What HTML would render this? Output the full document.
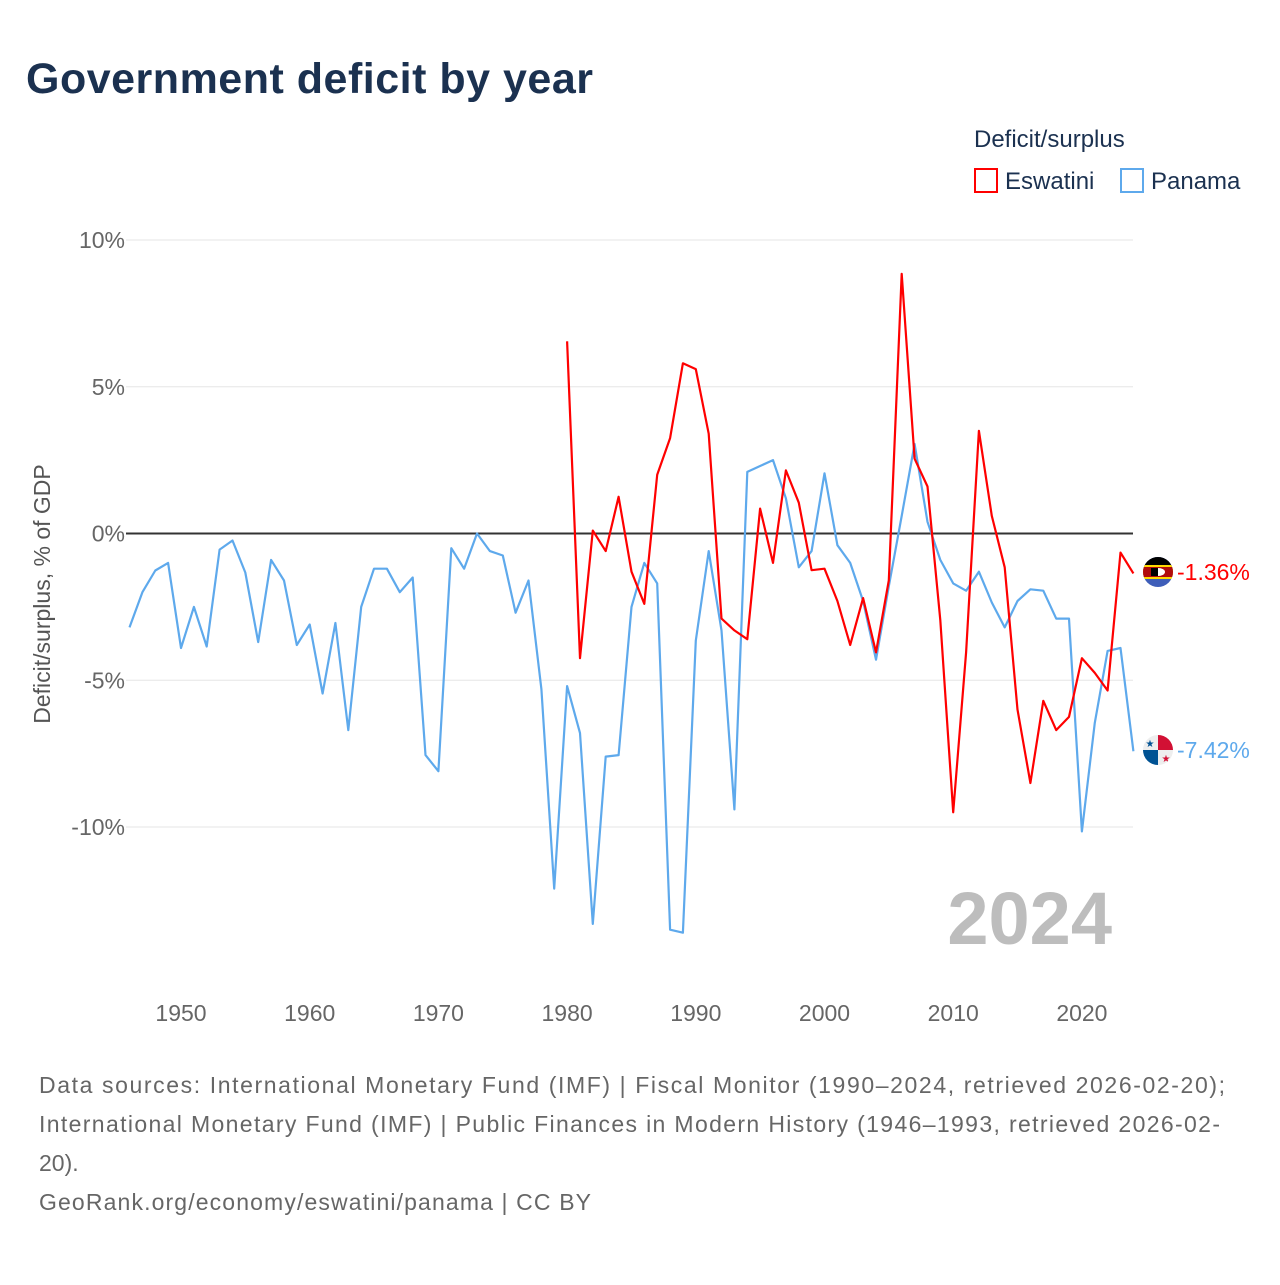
<!DOCTYPE html>
<html><head><meta charset="utf-8"><style>
body{margin:0;background:#fff;width:1280px;height:1280px;overflow:hidden;font-family:"Liberation Sans",sans-serif}
svg text{font-family:"Liberation Sans",sans-serif}
</style></head><body>
<svg id="c" width="1280" height="1280" xmlns="http://www.w3.org/2000/svg">
<text x="26" y="93" font-size="43" font-weight="bold" fill="#1b3150" textLength="567">Government deficit by year</text>
<text x="974" y="147" font-size="24" fill="#1b3150">Deficit/surplus</text>
<g><rect x="975" y="169" width="22" height="23" fill="none" stroke="#ff0000" stroke-width="2"/><text x="1005" y="189" font-size="24" fill="#1b3150">Eswatini</text></g>
<g><rect x="1121" y="169" width="22" height="23" fill="none" stroke="#5ea9ec" stroke-width="2"/><text x="1151" y="189" font-size="24" fill="#1b3150">Panama</text></g>
<g id="grid"></g>
<text x="-594" y="50" transform="rotate(-90)" text-anchor="middle" font-size="23" fill="#555">Deficit/surplus, % of GDP</text>
<text x="1112" y="944" text-anchor="end" font-size="74" font-weight="bold" fill="#bdbdbd">2024</text>
<g id="series"></g>
<g>
<clipPath id="ce"><circle cx="1158" cy="572" r="15"/></clipPath>
<g clip-path="url(#ce)"><rect x="1143" y="557" width="30" height="30" fill="#3e5eb9"/><rect x="1143" y="557" width="30" height="9" fill="#000"/><rect x="1143" y="565" width="30" height="14" fill="#ffd900"/><rect x="1143" y="567" width="30" height="10" fill="#b10c0c"/><ellipse cx="1158" cy="572" rx="7" ry="4" fill="#fff"/><rect x="1151" y="568" width="7" height="8" fill="#000"/></g></g>
<g>
<clipPath id="cp"><circle cx="1158" cy="750" r="15"/></clipPath>
<g clip-path="url(#cp)"><rect x="1143" y="735" width="30" height="30" fill="#eee"/><rect x="1158" y="735" width="15" height="15" fill="#d21034"/><rect x="1143" y="750" width="15" height="15" fill="#005293"/><text x="1150" y="747" font-size="10" text-anchor="middle" fill="#005293">★</text><text x="1166" y="762" font-size="10" text-anchor="middle" fill="#d21034">★</text></g></g>
<text x="1177" y="580" font-size="23" fill="#ff0000">-1.36%</text>
<text x="1177" y="758" font-size="23" fill="#5ea9ec">-7.42%</text>
<g font-size="23" fill="#666">
<text x="39" y="1093" textLength="1186">Data sources: International Monetary Fund (IMF) | Fiscal Monitor (1990–2024, retrieved 2026-02-20);</text>
<text x="39" y="1132" textLength="1181">International Monetary Fund (IMF) | Public Finances in Modern History (1946–1993, retrieved 2026-02-</text>
<text x="39" y="1171">20).</text>
<text x="39" y="1210" textLength="552">GeoRank.org/economy/eswatini/panama | CC BY</text>
</g>
</svg>
<script>
const yTicks=[10,5,0,-5,-10];
const yTickLabels=["10%","5%","0%","-5%","-10%"];
const xTicks=[1950,1960,1970,1980,1990,2000,2010,2020];
const panamaStart=1946;
const panama=[-3.2,-2.0,-1.26,-1.0,-3.9,-2.5,-3.85,-0.55,-0.24,-1.33,-3.7,-0.9,-1.6,-3.8,-3.1,-5.45,-3.05,-6.7,-2.5,-1.2,-1.2,-2.0,-1.5,-7.55,-8.1,-0.5,-1.2,0,-0.6,-0.75,-2.7,-1.6,-5.3,-12.1,-5.2,-6.8,-13.3,-7.6,-7.55,-2.5,-1.0,-1.7,-13.5,-13.6,-3.65,-0.6,-3.3,-9.4,2.1,2.3,2.5,1.2,-1.15,-0.6,2.05,-0.4,-1.0,-2.3,-4.3,-1.8,0.6,3.05,0.4,-0.9,-1.7,-1.95,-1.3,-2.35,-3.2,-2.3,-1.9,-1.95,-2.9,-2.9,-10.15,-6.45,-4.0,-3.9,-7.42];
const eswStart=1980;
const eswatini=[6.55,-4.25,0.1,-0.6,1.25,-1.3,-2.4,2.0,3.25,5.8,5.6,3.4,-2.9,-3.3,-3.6,0.85,-1.0,2.15,1.05,-1.25,-1.2,-2.3,-3.8,-2.2,-4.05,-1.6,8.85,2.55,1.6,-2.95,-9.5,-4.05,3.5,0.6,-1.15,-6.0,-8.5,-5.7,-6.7,-6.25,-4.25,-4.75,-5.35,-0.65,-1.36];
const NS="http://www.w3.org/2000/svg";
const X=yr=>181+(yr-1950)*12.87;
const Y=v=>533.5-v*29.35;
const grid=document.getElementById('grid');
yTicks.forEach((t,i)=>{
 const l=document.createElementNS(NS,'line');
 l.setAttribute('x1',126);l.setAttribute('x2',1133);l.setAttribute('y1',Y(t));l.setAttribute('y2',Y(t));
 l.setAttribute('stroke',t===0?'#333':'#e6e6e6');l.setAttribute('stroke-width',t===0?2:1);
 
 
 grid.appendChild(l);
 const tx=document.createElementNS(NS,'text');
 tx.setAttribute('x',125);tx.setAttribute('y',Y(t)+8);tx.setAttribute('text-anchor','end');
 tx.setAttribute('font-size',23);tx.setAttribute('fill','#666');tx.textContent=yTickLabels[i];
 
 
 grid.appendChild(tx);
});
xTicks.forEach(t=>{
 const tx=document.createElementNS(NS,'text');
 tx.setAttribute('x',X(t));tx.setAttribute('y',1021);tx.setAttribute('text-anchor','middle');
 tx.setAttribute('font-size',23);tx.setAttribute('fill','#666');tx.textContent=t;
 
 
 grid.appendChild(tx);
});
const ser=document.getElementById('series');
function line(vals,start,color,name){
 const p=document.createElementNS(NS,'polyline');
 p.setAttribute('points',vals.map((v,i)=>X(start+i).toFixed(1)+','+Y(v).toFixed(1)).join(' '));
 p.setAttribute('fill','none');p.setAttribute('stroke',color);p.setAttribute('stroke-width',2.2);
 p.setAttribute('stroke-linejoin','round');
 
 
 ser.appendChild(p);
}
line(panama,panamaStart,'#5ea9ec','panama-line');
line(eswatini,eswStart,'#ff0000','eswatini-line');
</script>
</body></html>
